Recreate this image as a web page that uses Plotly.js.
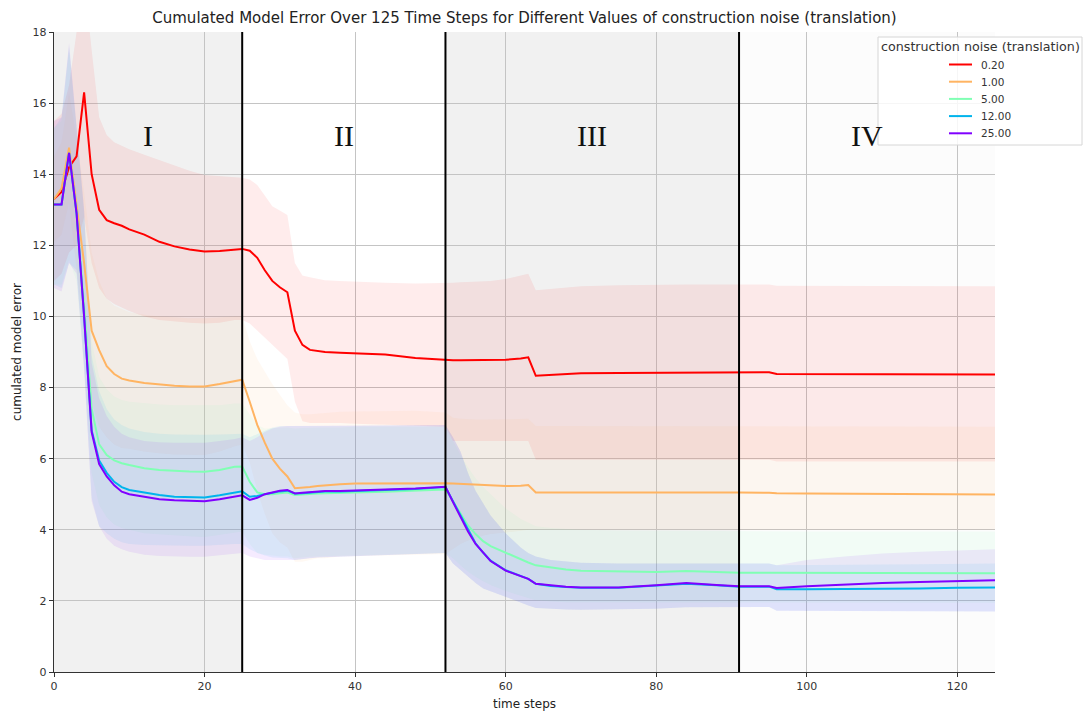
<!DOCTYPE html>
<html>
<head>
<meta charset="utf-8">
<script src="https://cdn.plot.ly/plotly-3.0.1.min.js"></script>
<style>
  html, body { margin: 0; padding: 0; background: #ffffff; }
  #chart { width: 1084px; height: 714px; }
</style>
</head>
<body>
<div id="chart"></div>
<script>
// Time steps at which the cumulated error was recorded
const steps = [0,1,2,3,4,5,6,7,8,9,10, 12,14,16,18,20,22,24,25,
  26,27,28,29,30,31,32,33,34,35,36, 38,40,44,48,52, 53,54,55,56,57,58,
  60,62,63,64, 66,68,70,75,80,84,88,91,95,96, 100,105,110,115,120,125];

// Noise levels (legend labels)
const noiseLabels = ['0.20', '1.00', '5.00', '12.00', '25.00'];

// Mean cumulated model error per noise level
const err020 = [13.3,13.5,14.2,14.5,16.3,14.0,13.0,12.71,12.62,12.55,12.45,
  12.3,12.1,11.97,11.88,11.83,11.84,11.89,11.9,
  11.85,11.65,11.3,11.0,10.82,10.68,9.6,9.2,9.06,9.02,9.0,
  8.98,8.97,8.93,8.83,8.77,
  8.77,8.77,8.77,8.77,8.77,8.77,
  8.78,8.82,8.85,8.33,
  8.36,8.38,8.4,8.41,8.42,8.42,8.43,8.43,8.43,8.38,
  8.38,8.38,8.38,8.37,8.37,8.37];
const err100 = [13.3,13.6,14.75,13.2,11.5,9.6,9.05,8.6,8.38,8.25,8.2,
  8.13,8.08,8.05,8.03,8.03,8.1,8.18,8.22,
  7.6,6.95,6.45,6.0,5.72,5.5,5.17,5.18,5.2,5.23,5.25,
  5.28,5.3,5.31,5.32,5.31,
  5.3,5.29,5.28,5.27,5.26,5.25,
  5.23,5.24,5.26,5.05,
  5.05,5.06,5.06,5.06,5.07,5.07,5.06,5.05,5.04,5.03,
  5.02,5.01,5.0,5.0,4.99,4.99];
const err500 = [13.15,13.15,14.6,12.9,10.3,7.4,6.4,6.1,5.95,5.87,5.82,
  5.73,5.68,5.65,5.64,5.63,5.68,5.77,5.78,
  5.35,5.05,5.0,5.0,5.03,5.05,4.98,5.0,5.01,5.02,5.03,
  5.03,5.05,5.07,5.1,5.13,
  4.8,4.46,4.12,3.88,3.68,3.54,
  3.35,3.16,3.08,3.0,
  2.93,2.88,2.85,2.82,2.81,2.84,2.81,2.79,2.79,2.79,
  2.78,2.78,2.78,2.78,2.78,2.78];
const err1200 = [13.15,13.15,14.6,12.9,10.0,6.8,5.95,5.6,5.35,5.2,5.12,
  5.04,4.98,4.93,4.92,4.91,4.97,5.04,5.08,
  4.93,4.95,5.0,5.05,5.08,5.1,5.02,5.03,5.05,5.07,5.08,
  5.08,5.1,5.12,5.15,5.2,
  4.8,4.4,3.98,3.62,3.36,3.13,
  2.86,2.7,2.62,2.48,
  2.42,2.39,2.37,2.37,2.43,2.48,2.44,2.4,2.4,2.33,
  2.33,2.33,2.34,2.35,2.37,2.38];
const err2500 = [13.15,13.15,14.6,12.9,10.0,6.75,5.85,5.5,5.25,5.07,5.0,
  4.92,4.86,4.83,4.81,4.8,4.86,4.93,4.97,
  4.84,4.9,5.0,5.06,5.1,5.12,5.02,5.04,5.06,5.08,5.09,
  5.09,5.11,5.13,5.16,5.21,
  4.78,4.37,3.95,3.6,3.35,3.12,
  2.85,2.7,2.62,2.48,
  2.43,2.4,2.38,2.38,2.44,2.5,2.45,2.41,2.41,2.36,
  2.41,2.46,2.5,2.53,2.56,2.58];

// Upper / lower edges of the spread band per noise level
const hi020 = [15.5,15.7,16.5,18.1,19.5,17.5,15.6,15.1,14.9,14.8,14.7,
  14.55,14.4,14.25,14.1,13.98,13.95,13.93,13.9,
  13.85,13.7,13.4,13.1,12.98,12.85,11.5,11.15,11.1,11.05,11.02,
  11.0,10.98,10.95,10.93,10.93,
  10.95,10.96,10.97,10.98,10.99,11.0,
  11.05,11.15,11.2,10.74,
  10.78,10.82,10.85,10.88,10.9,10.9,10.9,10.9,10.9,10.86,
  10.86,10.86,10.86,10.85,10.85,10.85];
const lo020 = [11.0,11.2,11.8,12.0,12.8,11.5,10.8,10.5,10.35,10.25,10.15,
  10.0,9.9,9.85,9.82,9.8,9.82,9.9,9.9,
  9.8,9.6,9.4,9.2,9.0,8.8,7.6,7.05,7.0,7.0,7.0,
  7.0,6.98,6.95,6.92,6.9,
  6.5,6.5,6.5,6.5,6.5,6.5,
  6.5,6.5,6.5,5.97,
  5.97,5.97,5.97,5.97,5.97,5.97,5.97,5.97,5.97,5.92,
  5.92,5.92,5.92,5.92,5.92,5.92];
const hi100 = [14.5,14.9,16.3,15.0,13.5,11.8,11.0,10.5,10.3,10.2,10.12,
  10.05,10.0,9.98,9.95,9.95,9.98,10.0,10.0,
  9.3,8.8,8.45,8.1,7.8,7.5,7.3,7.25,7.25,7.27,7.3,
  7.32,7.33,7.34,7.35,7.3,
  7.15,7.12,7.1,7.1,7.1,7.1,
  7.1,7.1,7.12,6.92,
  6.92,6.92,6.92,6.92,6.92,6.92,6.92,6.92,6.92,6.9,
  6.9,6.9,6.9,6.9,6.9,6.9];
const lo100 = [12.1,12.3,13.2,11.4,9.5,7.6,6.9,6.6,6.4,6.3,6.28,
  6.2,6.15,6.12,6.1,6.1,6.2,6.35,6.4,
  5.9,5.1,4.45,3.9,3.65,3.5,3.1,3.1,3.15,3.2,3.2,
  3.25,3.27,3.28,3.3,3.32,
  3.45,3.6,3.7,3.78,3.84,3.88,
  3.93,3.97,4.0,3.98,
  3.98,3.99,4.0,4.0,4.0,4.0,4.0,4.0,4.0,4.0,
  4.0,4.0,4.0,4.0,4.0,4.0];
const hi500 = [15.3,15.5,17.5,15.3,12.8,9.3,8.3,7.95,7.75,7.65,7.6,
  7.55,7.52,7.5,7.5,7.48,7.5,7.55,7.55,
  7.25,6.95,6.85,6.85,6.87,6.88,6.85,6.86,6.87,6.88,6.88,
  6.88,6.9,6.9,6.9,6.9,
  6.5,6.1,5.75,5.45,5.2,5.0,
  4.6,4.3,4.2,4.1,
  4.05,4.02,4.0,3.98,3.97,3.97,3.96,3.95,3.95,3.95,
  3.95,3.95,3.95,3.95,3.95,3.95];
const lo500 = [10.9,10.9,11.6,11.0,8.6,5.6,4.7,4.35,4.15,4.05,4.0,
  3.9,3.86,3.84,3.82,3.8,3.85,3.92,3.95,
  3.6,3.35,3.3,3.28,3.25,3.25,3.2,3.22,3.24,3.25,3.26,
  3.27,3.28,3.3,3.32,3.35,
  3.2,3.0,2.82,2.68,2.55,2.45,
  2.28,2.14,2.08,2.02,
  1.98,1.96,1.95,1.95,1.95,1.97,1.96,1.95,1.95,1.95,
  1.95,1.95,1.95,1.95,1.95,1.95];
const hi1200 = [15.3,15.6,17.6,15.4,13.0,8.9,7.9,7.4,7.1,6.95,6.85,
  6.75,6.7,6.68,6.67,6.67,6.68,6.7,6.7,
  6.6,6.7,6.8,6.88,6.92,6.93,6.92,6.92,6.92,6.92,6.92,
  6.92,6.92,6.93,6.94,6.95,
  6.6,6.2,5.6,5.1,4.75,4.4,
  3.9,3.5,3.35,3.25,
  3.15,3.1,3.07,3.05,3.05,3.06,3.05,3.05,3.05,3.0,
  3.0,3.0,3.02,3.03,3.04,3.05];
const lo1200 = [10.9,10.8,11.5,11.3,8.6,4.9,4.1,3.9,3.75,3.65,3.6,
  3.57,3.55,3.55,3.55,3.55,3.57,3.6,3.6,
  3.45,3.35,3.28,3.22,3.2,3.2,3.15,3.17,3.2,3.22,3.23,
  3.25,3.27,3.3,3.32,3.35,
  3.05,2.85,2.68,2.5,2.35,2.25,
  2.1,1.95,1.87,1.8,
  1.77,1.76,1.75,1.76,1.78,1.82,1.82,1.83,1.83,1.72,
  1.7,1.7,1.7,1.7,1.7,1.7];
const hi2500 = [15.5,15.6,17.7,15.4,13.0,8.7,7.7,7.2,6.9,6.7,6.6,
  6.5,6.46,6.45,6.45,6.45,6.5,6.55,6.6,
  6.5,6.6,6.75,6.85,6.9,6.92,6.92,6.92,6.92,6.92,6.92,
  6.92,6.92,6.93,6.94,6.95,
  6.6,6.2,5.6,5.1,4.75,4.4,
  3.9,3.5,3.35,3.25,
  3.15,3.1,3.07,3.05,3.05,3.06,3.05,3.05,3.05,3.0,
  3.15,3.25,3.33,3.38,3.42,3.45];
const lo2500 = [10.8,10.7,11.5,11.2,8.5,4.8,4.1,3.75,3.55,3.45,3.38,
  3.3,3.26,3.25,3.24,3.24,3.28,3.33,3.35,
  3.25,3.2,3.15,3.15,3.15,3.15,3.15,3.17,3.2,3.22,3.23,
  3.25,3.27,3.3,3.32,3.35,
  3.05,2.85,2.68,2.5,2.35,2.25,
  2.1,1.95,1.87,1.8,
  1.77,1.76,1.75,1.76,1.78,1.82,1.82,1.83,1.83,1.72,
  1.7,1.7,1.7,1.7,1.7,1.7];

// Phase boundaries (time steps) and phase names
const phaseBounds = [0, 25, 52, 91, 125];
const phaseNames = ['I', 'II', 'III', 'IV'];
const phaseLabelLevel = 15.1;

// Line colours (rainbow colormap, low noise = red)
const lineColors = ['#ff0000', '#ffb462', '#80ffb4', '#00b4ec', '#8000ff'];
const bandColors = ['rgba(255,0,0,0.075)', 'rgba(255,180,98,0.08)', 'rgba(128,255,180,0.08)',
                    'rgba(0,180,236,0.08)', 'rgba(128,0,255,0.08)'];
const phaseFills = ['#f1f1f1', '#ffffff', '#f1f1f1', '#fcfcfc'];

const means = [err020, err100, err500, err1200, err2500];
const uppers = [hi020, hi100, hi500, hi1200, hi2500];
const lowers = [lo020, lo100, lo500, lo1200, lo2500];

const traces = [];
// spread bands (drawn beneath every line)
means.forEach((m, i) => {
  traces.push({
    type: 'scatter', mode: 'lines',
    x: steps.concat(steps.slice().reverse()),
    y: uppers[i].concat(lowers[i].slice().reverse()),
    fill: 'toself', fillcolor: bandColors[i],
    line: { width: 0, color: 'rgba(0,0,0,0)' },
    hoverinfo: 'skip', showlegend: false
  });
});
// mean lines
means.forEach((m, i) => {
  traces.push({
    type: 'scatter', mode: 'lines',
    x: steps, y: m, name: noiseLabels[i],
    line: { color: lineColors[i], width: 2 },
    showlegend: false
  });
});

// Plot area in pixels, used to place the legend box in paper units
const plotL = 54, plotR = 995, plotT = 32, plotB = 672;
const px2x = p => (p - plotL) / (plotR - plotL);
const px2y = p => (plotB - p) / (plotB - plotT);

const shapes = [];
const annotations = [];

// phase shading
for (let k = 0; k < phaseNames.length; k++) {
  shapes.push({
    type: 'rect', xref: 'x', yref: 'paper', layer: 'below',
    x0: phaseBounds[k], x1: phaseBounds[k + 1], y0: 0, y1: 1,
    fillcolor: phaseFills[k], line: { width: 0 }
  });
  annotations.push({
    xref: 'x', yref: 'y', x: (phaseBounds[k] + phaseBounds[k + 1]) / 2, y: phaseLabelLevel,
    text: phaseNames[k], showarrow: false, xanchor: 'center', yanchor: 'middle',
    font: { family: 'Liberation Serif, DejaVu Serif, serif', size: 30, color: '#111111' }
  });
}
// phase boundary lines
phaseBounds.slice(1, -1).forEach(b => {
  shapes.push({
    type: 'line', xref: 'x', yref: 'paper', layer: 'above',
    x0: b, x1: b, y0: 0, y1: 1, line: { color: '#000000', width: 2 }
  });
});

// legend
const lgL = 878, lgR = 1082, lgT = 37, lgB = 145;
shapes.push({
  type: 'rect', xref: 'paper', yref: 'paper', layer: 'above',
  x0: px2x(lgL), x1: px2x(lgR), y0: px2y(lgB), y1: px2y(lgT),
  fillcolor: 'rgba(255,255,255,0.85)', line: { color: '#d6d6d6', width: 1 }
});
annotations.push({
  xref: 'paper', yref: 'paper', x: px2x((lgL + lgR) / 2), y: px2y(46.5),
  text: 'construction noise (translation)', showarrow: false,
  xanchor: 'center', yanchor: 'middle',
  font: { family: 'DejaVu Sans, sans-serif', size: 12.7, color: '#333333' }
});
noiseLabels.forEach((lab, i) => {
  const py = 64.5 + i * 17.2;
  shapes.push({
    type: 'line', xref: 'paper', yref: 'paper', layer: 'above',
    x0: px2x(949), x1: px2x(972), y0: px2y(py), y1: px2y(py),
    line: { color: lineColors[i], width: 2 }
  });
  annotations.push({
    xref: 'paper', yref: 'paper', x: px2x(979), y: px2y(py),
    text: lab, showarrow: false, xanchor: 'left', yanchor: 'middle',
    font: { family: 'DejaVu Sans, sans-serif', size: 10.5, color: '#333333' }
  });
});

const axisFont = { family: 'DejaVu Sans, sans-serif', size: 11, color: '#333333' };

const layout = {
  width: 1084, height: 714,
  margin: { l: plotL, r: 1084 - plotR, t: plotT, b: 714 - plotB, pad: 0 },
  paper_bgcolor: '#ffffff', plot_bgcolor: '#ffffff',
  showlegend: false,
  title: {
    text: 'Cumulated Model Error Over 125 Time Steps for Different Values of construction noise (translation)',
    xref: 'paper', x: 0.5, xanchor: 'center',
    yref: 'container', y: 1 - 18 / 714, yanchor: 'middle',
    font: { family: 'DejaVu Sans, sans-serif', size: 15, color: '#222222' }
  },
  xaxis: {
    range: [0, 125], tickvals: [0, 20, 40, 60, 80, 100, 120],
    showgrid: true, gridcolor: '#c4c4c4', gridwidth: 1,
    zeroline: false, showline: true, linecolor: '#333333', linewidth: 1.2,
    ticks: 'outside', ticklen: 4, tickcolor: '#333333',
    tickfont: axisFont, automargin: false,
    title: { text: 'time steps', standoff: 7, font: { family: 'DejaVu Sans, sans-serif', size: 12, color: '#222222' } }
  },
  yaxis: {
    range: [0, 18], tickvals: [0, 2, 4, 6, 8, 10, 12, 14, 16, 18],
    showgrid: true, gridcolor: '#c4c4c4', gridwidth: 1,
    zeroline: false, showline: true, linecolor: '#333333', linewidth: 1.2,
    ticks: 'outside', ticklen: 4, tickcolor: '#333333',
    tickfont: axisFont, automargin: false,
    title: { text: 'cumulated model error', standoff: 8, font: { family: 'DejaVu Sans, sans-serif', size: 12, color: '#222222' } }
  },
  shapes: shapes,
  annotations: annotations
};

Plotly.newPlot('chart', traces, layout, { staticPlot: true, displayModeBar: false });
</script>
</body>
</html>
